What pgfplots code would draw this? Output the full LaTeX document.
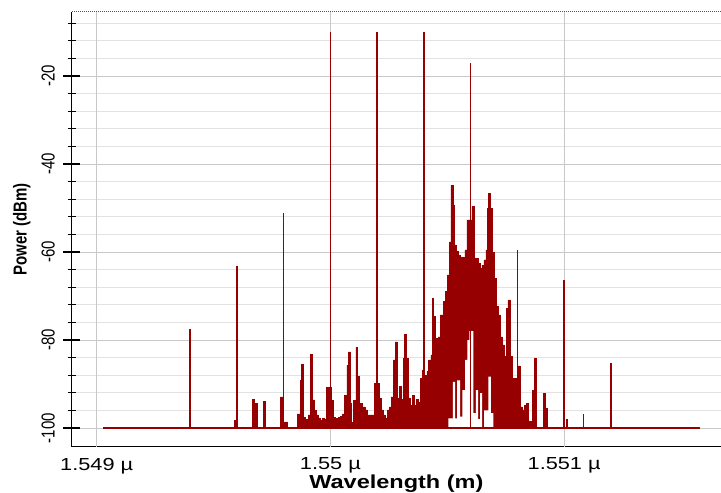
\documentclass[border=0pt]{standalone}
\usepackage{fontspec}
\setmainfont{Liberation Sans}[FakeStretch=1.25]
\newfontfamily\rotfont{Liberation Sans}
\usepackage{pgfplots}
\pgfplotsset{compat=1.18}
\definecolor{osred}{RGB}{150,0,0}
\definecolor{gmin}{RGB}{226,226,226}
\definecolor{gmaj}{RGB}{200,200,200}
\begin{document}
\begin{tikzpicture}
\begin{axis}[
  scale only axis, width=649.3pt, height=434.7pt,
  xmin=1548.893, xmax=1551.671, ymin=-104.25, ymax=-5.45,
  axis x line*=bottom, axis y line*=left,
  axis line style={-, black, line width=1.4pt},
  xtick=\empty,
  extra x ticks={1549,1550,1551},
  extra x tick labels={1.549 µ,1.55 µ,1.551 µ},
  extra x tick style={grid=major, major tick length=0pt},
  minor xtick={1549.2,1549.4,1549.6,1549.8,1550.2,1550.4,1550.6,1550.8,1551.2,1551.4,1551.6},
  ytick={-100,-80,-60,-40,-20},
  minor ytick={-96,-92,-88,-84,-76,-72,-68,-64,-56,-52,-48,-44,-36,-32,-28,-24,-16,-12,-8},
  grid=both,
  major grid style={gmaj, line width=1pt},
  minor grid style={gmin, line width=1pt},
  tick align=center, major tick length=17pt, minor tick length=8pt,
  tick style={black, line width=1.2pt},
  every minor x tick/.style={draw=none},
  /pgf/number format/assume math mode=true,
  xticklabel style={font=\fontsize{17.4}{18}\selectfont, anchor=north, inner sep=0pt, yshift=-11pt},
  yticklabel style={font=\rotfont\fontsize{15}{15}\selectfont, rotate=90, yscale=1.25, anchor=south, inner sep=6.5pt},
  xlabel={Wavelength (m)}, ylabel={Power (dBm)},
  xlabel style={font=\bfseries\fontsize{18.8}{19}\selectfont, at={(axis description cs:0.5,-0.0635)}, anchor=north, inner sep=0pt},
  ylabel style={font=\rotfont\bfseries\fontsize{15}{15}\selectfont, at={(axis description cs:-0.077,0.5)}, anchor=center, inner sep=0pt, yscale=1.25},
]
\draw[densely dotted, gray!70!black, line width=1pt] (rel axis cs:0,1) -- (rel axis cs:1,1);
% noise cluster: upper envelope, filled down to -100
\addplot[const plot, fill=osred, draw=osred, line width=0.5pt] coordinates {
(1549.5875,-100)
(1549.5875,-98.2) (1549.5961,-100) (1549.6675,-93.5) (1549.6761,-94.4) (1549.6872,-100)
(1549.7129,-94.0) (1549.7232,-100) (1549.7856,-92.9) (1549.7959,-100) (1549.8045,-98.6)
(1549.8156,-100) (1549.8601,-96.8) (1549.8699,-89.2) (1549.8772,-85.5) (1549.8858,-97.5)
(1549.8943,-98.0) (1549.9042,-97.0) (1549.9140,-83.2) (1549.9226,-93.6) (1549.9311,-96.0)
(1549.9397,-97.0) (1549.9482,-97.7) (1549.9568,-98.2) (1549.9653,-97.8) (1549.9739,-98.0)
(1549.9842,-90.7) (1549.9940,-90.7) (1550.0026,-93.8) (1550.0141,-97.5) (1550.0227,-97.8)
(1550.0338,-97.6) (1550.0424,-97.3) (1550.0509,-96.8) (1550.0595,-92.5) (1550.0698,-85.7)
(1550.0766,-82.7) (1550.0852,-94.3) (1550.0911,-98.7) (1550.0980,-93.8) (1550.1083,-81.7)
(1550.1168,-88.3) (1550.1254,-94.4) (1550.1365,-95.2) (1550.1481,-95.9) (1550.1596,-97.0)
(1550.1879,-89.8) (1550.1994,-89.8) (1550.2080,-93.2) (1550.2165,-95.9) (1550.2251,-97.0)
(1550.2336,-97.8) (1550.2422,-95.9) (1550.2508,-95.2) (1550.2593,-92.9) (1550.2679,-84.5)
(1550.2764,-80.4) (1550.2850,-93.2) (1550.2935,-90.6) (1550.3021,-93.5) (1550.3107,-84.2)
(1550.3162,-78.7) (1550.3248,-84.2) (1550.3333,-93.2) (1550.3419,-94.8) (1550.3505,-92.5)
(1550.3590,-94.8) (1550.3676,-93.5) (1550.3761,-94.2) (1550.3847,-88.7) (1550.3932,-86.8)
(1550.4035,-88.0) (1550.4121,-87.2) (1550.4206,-84.5) (1550.4292,-83.4) (1550.4348,-70.5)
(1550.4403,-74.7) (1550.4463,-81.9) (1550.4519,-79.6) (1550.4604,-79.3) (1550.4690,-74.3)
(1550.4831,-71.3) (1550.4917,-69.0) (1550.5002,-65.2) (1550.5088,-57.7) (1550.5148,-44.8)
(1550.5233,-49.3) (1550.5289,-58.4) (1550.5374,-59.9) (1550.5460,-60.7) (1550.5546,-61.1)
(1550.5631,-61.2) (1550.5747,-59.5) (1550.5832,-52.7) (1550.5918,-52.7) (1550.6046,-49.7)
(1550.6132,-61.4) (1550.6217,-61.4) (1550.6303,-62.6) (1550.6389,-63.7) (1550.6474,-63.0)
(1550.6560,-61.8) (1550.6645,-59.5) (1550.6701,-50.1) (1550.6757,-46.7) (1550.6842,-50.1)
(1550.6928,-60.0) (1550.7013,-66.0) (1550.7099,-72.4) (1550.7184,-74.3) (1550.7270,-79.3)
(1550.7356,-81.1) (1550.7441,-83.8) (1550.7527,-72.8) (1550.7587,-70.9) (1550.7672,-83.8)
(1550.7758,-88.7) (1550.7929,-89.0) (1550.8027,-85.9) (1550.8113,-95.2) (1550.8199,-95.9)
(1550.8284,-94.8) (1550.8370,-94.4) (1550.8455,-98.5) (1550.8626,-91.4) (1550.8712,-84.2)
(1550.8798,-100) (1550.9110,-92.1) (1550.9196,-95.5) (1550.9282,-100) (1550.9300,-100)
};
% notches: lower envelope of the fast oscillation in the centre
\addplot[const plot, fill=white, draw=none] coordinates {
(1550.5045,-100)
(1550.5045,-97.8) (1550.5233,-89.5) (1550.5332,-97.8) (1550.5417,-89.2)
(1550.5546,-97.4) (1550.5644,-91.4) (1550.5760,-84.5) (1550.5858,-80.0) (1550.5944,-78.0)
(1550.6115,-96.6) (1550.6217,-91.4) (1550.6316,-98.0) (1550.6401,-92.1) (1550.6487,-100)
(1550.6573,-96.0) (1550.6757,-88.3) (1550.6859,-96.6) (1550.6971,-100) (1550.6971,-100)
};
\addplot[osred, line width=1.3pt] coordinates {(1549.028,-100) (1551.581,-100)};
\addplot[osred, line width=1.4pt, unbounded coords=jump] coordinates {
(1549.4,-100) (1549.4,-77.6) (1549.4,nan)
(1549.6,-100) (1549.6,-63.1) (1549.6,nan)
(1549.8,-100) (1549.8,-51.1) (1549.8,nan)
(1550.0,-100) (1550.0,-10.0) (1550.0,nan)
(1550.2,-100) (1550.2,-10.0) (1550.2,nan)
(1550.4,-100) (1550.4,-10.0) (1550.4,nan)
(1550.6,-100) (1550.6,-17.1) (1550.6,nan)
(1550.8,-100) (1550.8,-59.6) (1550.8,nan)
(1551.0,-100) (1551.0,-66.3) (1551.0,nan)
(1551.012,-100) (1551.012,-98.0) (1551.012,nan)
(1551.082,-100) (1551.082,-96.9) (1551.082,nan)
(1551.2,-100) (1551.2,-85.2)
};
\end{axis}
\pgfresetboundingbox
\path[use as bounding box] ([xshift=-71.7pt,yshift=-45.3pt]current axis.south west) rectangle ([yshift=12pt]current axis.north east);
\end{tikzpicture}
\end{document}
